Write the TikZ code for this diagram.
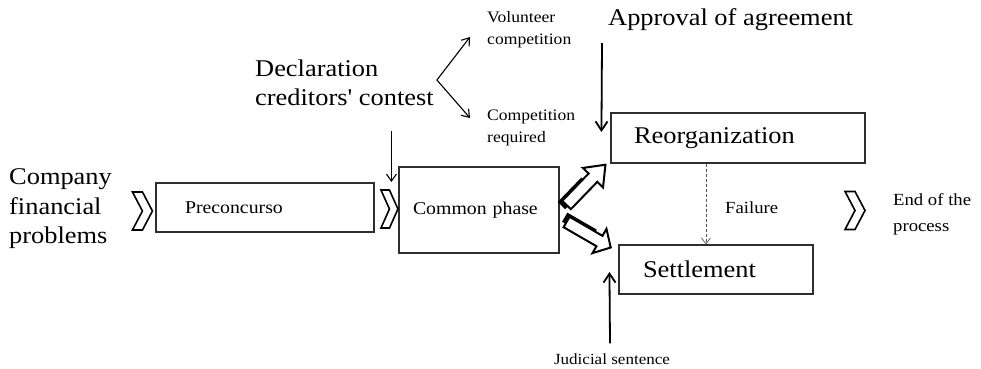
\documentclass[tikz,border=0pt]{standalone}
\usepackage{fontspec}
\setmainfont{Liberation Serif}[Ligatures=TeXOff, FakeStretch=1.1]
\usetikzlibrary{arrows.meta, positioning, calc}
\definecolor{inkBox}{HTML}{2E2E2E}
\definecolor{inkDash}{HTML}{555555}
\newcommand{\largetxt}{\fontsize{24}{29.5}\selectfont}
\newcommand{\boxtxt}{\fontsize{18}{22}\selectfont}
\newcommand{\midtxt}{\fontsize{17}{26}\selectfont}
\newcommand{\smalltxt}{\fontsize{16}{22}\selectfont}
\tikzset{
  stage/.style={draw=inkBox, line width=1.1pt, fill=white, align=left, inner ysep=0pt},
  txt/.style={inner sep=0pt, align=left, anchor=west},
  arr/.style={-{Straight Barb[length=7pt, width=10pt]}, line width=1.1pt},
  heavyarr/.style={-{Straight Barb[length=9pt, width=12pt]}, line width=1.8pt},
  failarr/.style={-{Straight Barb[length=6pt, width=9pt]}, line width=0.7pt, color=inkDash,
                  dash pattern=on 3pt off 2pt},
  pics/chev/.style={code={
    \draw[line width=1.6pt, fill=white] (-10,-19) -- (0,-19) -- (10,0) -- (0,19) -- (-10,19) -- (0,0) -- cycle;
  }},
  pics/blockarrow/.style={code={
    \fill (-4,-8.5) rectangle (30,2);
    \draw[line width=2pt, fill=white] (0,-6) -- (38,-6) -- (38,-14) -- (#1,0) -- (38,14) -- (38,6) -- (0,6) -- cycle;
  }},
}
\begin{document}
\begin{tikzpicture}[x=1pt, y=-1pt]
\useasboundingbox (0,0) rectangle (981,368);
% stages
\node[stage, font=\boxtxt, text width=160pt, inner xsep=29pt, minimum height=49pt] (pre) at (265,207.5) {Preconcurso};
\node[stage, font=\boxtxt, text width=132pt, inner xsep=14pt, minimum height=86pt] (common) at (479,210) {Common phase};
\node[stage, font=\largetxt, text width=208pt, inner xsep=23pt, minimum height=50pt] (reorg) at (738,138) {Reorganization};
\node[stage, font=\largetxt, text width=146pt, inner xsep=24pt, minimum height=49pt] (settle) at (716,269.5) {Settlement};
% texts
\node[txt, font=\largetxt] (company) at (9,209) {Company\\financial\\problems};
\node[txt, font=\largetxt] (decl) at (255,83) {Declaration\\creditors' contest};
\node[txt, font=\smalltxt] (volunteer) at (487,30) {Volunteer\\competition};
\node[txt, font=\smalltxt] (required) at (487,128) {Competition\\required};
\node[txt, font=\largetxt] (approval) at (608,20) {Approval of agreement};
\node[txt, font=\midtxt] (failure) at (725,208) {Failure};
\node[txt, font=\midtxt] (endproc) at (893,214) {End of the\\process};
\node[inner sep=0pt, font=\fontsize{15.5}{20}\selectfont] (judicial) at (612,359) {Judicial sentence};
% chevrons
\pic at ($(pre.west)+(-13,3.5)$) {chev};
\pic[xscale=0.85] at ($(common.west)+(-9,-1)$) {chev};
\pic at ($(endproc.west)+(-38,-3.5)$) {chev};
% connectors
\coordinate (fork) at ($(decl.east)+(3,-3)$);
\draw[arr] (fork) -- ($(volunteer.west)+(-17,7)$);
\draw[arr] (fork) -- ($(required.west)+(-17,-10)$);
\draw[arr] ($(common.west)+(-7,-79)$) -- ($(common.west)+(-7,-28)$);
\draw[heavyarr] ($(approval.west)+(-6,23)$) -- ($(reorg.west)+(-9,-6)$);
\draw[heavyarr] ($(judicial.north)+(-2,-10)$) -- ($(settle.west)+(-9,2.5)$);
\draw[failarr] ($(reorg.south)+(-32,0)$) -- ($(settle.north)+(-10,0)$);
\pic[rotate=46] at ($(common.east)+(7,-5)$) {blockarrow=56};
\pic[rotate=-30] at ($(common.east)+(7,12)$) {blockarrow=51};
\end{tikzpicture}
\end{document}
